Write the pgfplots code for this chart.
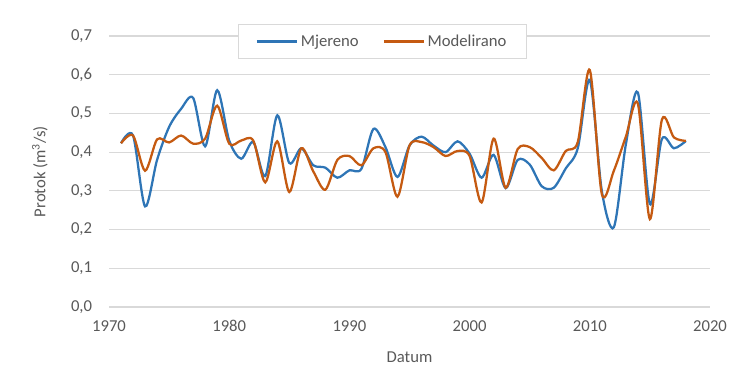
\documentclass[border=0pt]{standalone}
\usepackage{pgfplots}
\pgfplotsset{compat=1.18}
\usepackage{fontspec}
\setmainfont{Carlito}
\definecolor{mblue}{RGB}{46,117,182}
\definecolor{morange}{RGB}{197,90,17}
\definecolor{gridc}{RGB}{217,217,217}
\definecolor{txt}{RGB}{89,89,89}
\pgfplotstableread{
year mj mo
1971 0.423 0.423
1972 0.443 0.443
1973 0.260 0.352
1974 0.380 0.433
1975 0.465 0.425
1976 0.512 0.443
1977 0.540 0.422
1978 0.415 0.435
1979 0.560 0.520
1980 0.430 0.422
1981 0.383 0.430
1982 0.426 0.430
1983 0.338 0.322
1984 0.495 0.428
1985 0.372 0.297
1986 0.410 0.410
1987 0.366 0.350
1988 0.360 0.303
1989 0.334 0.380
1990 0.353 0.390
1991 0.357 0.366
1992 0.460 0.410
1993 0.413 0.400
1994 0.336 0.285
1995 0.417 0.417
1996 0.440 0.426
1997 0.417 0.413
1998 0.400 0.390
1999 0.428 0.403
2000 0.396 0.390
2001 0.334 0.270
2002 0.393 0.435
2003 0.307 0.308
2004 0.380 0.408
2005 0.368 0.413
2006 0.312 0.385
2007 0.308 0.353
2008 0.358 0.403
2009 0.410 0.426
2010 0.586 0.612
2011 0.300 0.292
2012 0.206 0.352
2013 0.420 0.440
2014 0.554 0.525
2015 0.266 0.227
2016 0.434 0.484
2017 0.410 0.438
2018 0.429 0.429
}\datatable
\begin{document}
\begin{tikzpicture}
\useasboundingbox (0,0) rectangle (552pt,290.25pt);
\begin{axis}[
  at={(81.75pt,60pt)}, anchor=south west,
  scale only axis, width=450.75pt, height=203.25pt,
  xmin=1970, xmax=2020, ymin=0, ymax=0.7,
  xtick={1970,1980,1990,2000,2010,2020},
  ytick={0,0.1,0.2,0.3,0.4,0.5,0.6,0.7},
  ymajorgrids, grid style={draw=gridc, line width=0.9pt},
  axis line style={draw=none}, tick style={draw=none},
  font=\fontsize{12.5}{15}\selectfont,
  every tick label/.append style={text=txt, font=\fontsize{12.5}{15}\selectfont},
  /pgf/number format/assume math mode=true,
  xticklabel style={/pgf/number format/1000 sep={}, anchor=center, yshift=-14.5pt},
  yticklabel style={/pgf/number format/.cd, fixed, fixed zerofill, precision=1, use comma, /tikz/.cd, anchor=east, inner sep=0pt, xshift=-12.5pt},
  xlabel={Datum}, ylabel={Protok (m\textsuperscript{3}/s)},
  label style={text=txt, font=\fontsize{12.5}{15}\selectfont},
  xlabel style={at={(axis description cs:0.5,-0.1845)}, anchor=center},
  ylabel style={at={(axis description cs:-0.115,0.5)}, anchor=center},
  legend columns=2,
  legend style={at={(axis description cs:0.455,0.98)}, anchor=center, draw=gridc, line width=0.75pt, fill=white, text=txt, font=\fontsize{12.5}{15}\selectfont, inner xsep=13pt, inner ysep=5.5pt,
    /tikz/every even column/.append style={column sep=16pt}},
  legend image code/.code={\draw[#1, line width=1.7pt] (0pt,0pt) -- (30pt,0pt);},
]
\addplot[mblue, line width=1.7pt, smooth] table[x=year, y=mj] {\datatable};
\addplot[morange, line width=1.7pt, smooth] table[x=year, y=mo] {\datatable};
\legend{Mjereno, Modelirano}
\end{axis}
\end{tikzpicture}
\end{document}
